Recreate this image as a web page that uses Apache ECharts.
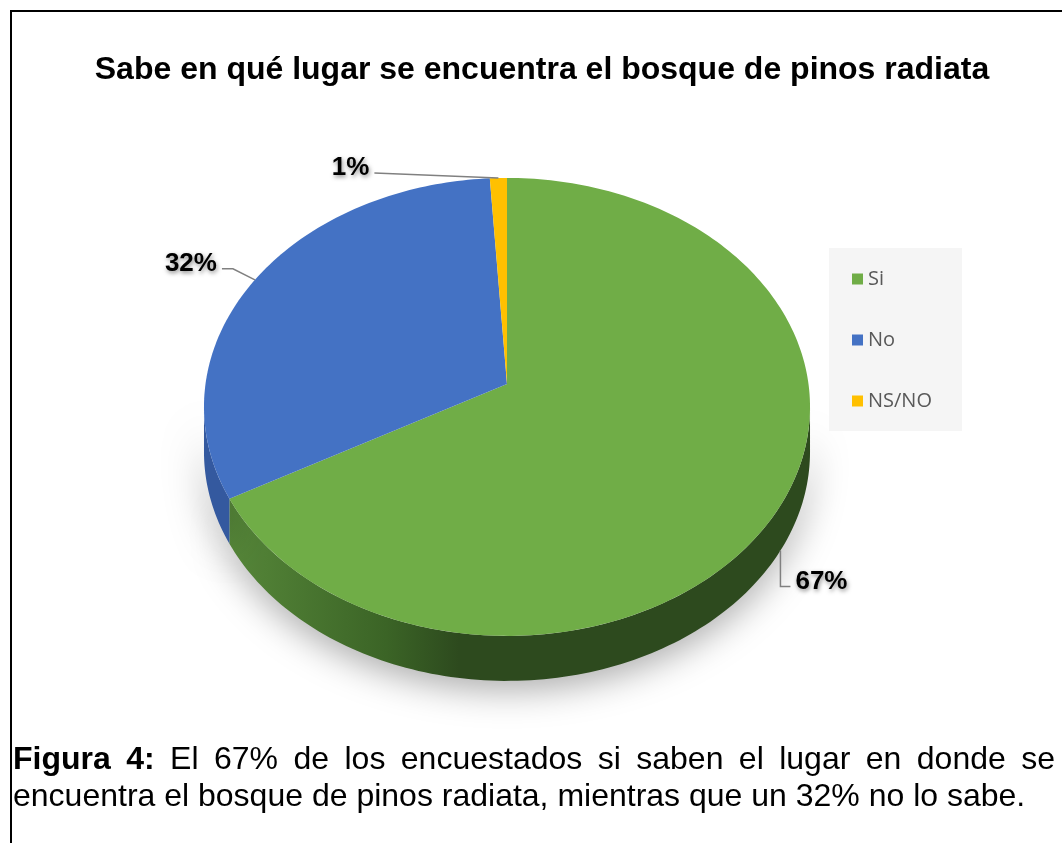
<!DOCTYPE html>
<html>
<head>
<meta charset="utf-8">
<script src="https://cdn.jsdelivr.net/npm/echarts@6/dist/echarts.min.js"></script>
<style>
  html, body { margin: 0; padding: 0; background: #fff; }
  .page { position: relative; width: 1062px; height: 843px; overflow: hidden; }
  .frame {
    position: absolute; left: 10px; top: 10px; width: 1100px; height: 900px;
    border-top: 2px solid #000; border-left: 2px solid #000;
  }
  #chart { position: absolute; left: 0; top: 0; width: 1062px; height: 843px; }
  .caption {
    position: absolute; left: 13px; top: 740px; width: 1042px;
    font-family: "Liberation Sans", Arial, sans-serif; font-size: 32px; line-height: 37px;
    text-align: justify; color: #000;
  }
</style>
</head>
<body>
<div class="page">
  <div class="frame"></div>
  <div id="chart"></div>
  <div class="caption"><b>Figura 4:</b> El 67% de los encuestados si saben el lugar en donde se encuentra el bosque de pinos radiata, mientras que un 32% no lo sabe.</div>
</div>
<script>
// datos
var categories = ['Si', 'No', 'NS/NO']
var values = [67, 32, 1]
var labels = ['67%', '32%', '1%']

// colores
var topColors = ['#70ad47', '#4472c4', '#ffc000']
var sideColors = [
  new echarts.graphic.LinearGradient(205, 0, 810, 0, [
    { offset: 0, color: '#5a8c3c' },
    { offset: 0.3, color: '#3b6426' },
    { offset: 0.42, color: '#2d4a1e' },
    { offset: 1, color: '#2d4a1e' }
  ], true),
  '#34599f',
  '#bf9000'
]

// geometria del pastel 3D (perspectiva)
var CX = 507
var CY = 384
var RX = 301.5
var RY = 226.7
var K = 0.1
var DEPTH = 45
// quiebres de las lineas guia [primer tramo, segundo tramo]
var leaderBends = [
  [[0, 36], [10, 0]],
  [[-22, -11], [-11, 0]],
  [[-62, -2.5], [-62, -2.5]]
]

function proj(t, dy) {
  var f = 1 / (1 + K * Math.cos(t))
  return [CX + RX * Math.sin(t) * f, CY - RY * Math.cos(t) * f + dy]
}

function arc(a1, a2, dy) {
  var pts = []
  var n = Math.max(2, Math.ceil((a2 - a1) / 0.02))
  for (var j = 0; j <= n; j++) {
    pts.push(proj(a1 + (a2 - a1) * j / n, dy))
  }
  return pts
}

function renderSlice(params, api) {
  var i = params.seriesIndex
  var total = values.reduce(function (a, b) { return a + b }, 0)
  var before = 0
  for (var k = 0; k < i; k++) before += values[k]
  var a1 = 2 * Math.PI * before / total
  var a2 = a1 + 2 * Math.PI * api.value(0) / total
  var children = []

  // cara lateral (solo la parte frontal)
  var ts = Math.acos(-K)
  var lo = Math.max(a1, ts)
  var hi = Math.min(a2, 2 * Math.PI - ts)
  if (lo < hi) {
    var side = arc(lo, hi, 0).concat(arc(lo, hi, DEPTH).reverse())
    children.push({
      type: 'polygon',
      z2: 1,
      shape: { points: side },
      style: {
        fill: sideColors[i],
        shadowColor: 'rgba(0,0,0,0.35)',
        shadowBlur: 36,
        shadowOffsetY: 8
      }
    })
  }

  // cara superior
  children.push({
    type: 'polygon',
    z2: 5,
    shape: { points: [[CX, CY]].concat(arc(a1, a2, 0)) },
    style: { fill: topColors[i] }
  })

  // linea guia y etiqueta
  var mid = (a1 + a2) / 2
  var front = mid > ts && mid < 2 * Math.PI - ts
  var A = proj(mid, front ? DEPTH : 0)
  var b = leaderBends[i]
  var E = [A[0] + b[0][0], A[1] + b[0][1]]
  var F = [E[0] + b[1][0], E[1] + b[1][1]]
  var right = b[1][0] > 0
  children.push({
    type: 'polyline',
    z2: 8,
    shape: { points: [A, E, F] },
    style: { stroke: '#808080', lineWidth: 1.5, fill: null }
  })
  children.push({
    type: 'text',
    z2: 10,
    style: {
      text: labels[i],
      x: F[0] + (right ? 5 : -5),
      y: F[1] - 5,
      align: right ? 'left' : 'right',
      verticalAlign: 'middle',
      font: 'bold 26px "Liberation Sans", Arial, sans-serif',
      fill: '#000',
      textShadowColor: 'rgba(0,0,0,0.45)',
      textShadowBlur: 4,
      textShadowOffsetX: 1,
      textShadowOffsetY: 2
    }
  })
  return { type: 'group', children: children }
}

var chart = echarts.init(document.getElementById('chart'))
chart.setOption({
  animation: false,
  color: topColors,
  title: {
    text: 'Sabe en qué lugar se encuentra el bosque de pinos radiata',
    left: 537,
    top: 49,
    textAlign: 'center',
    textStyle: {
      fontFamily: '"Liberation Sans", Arial, sans-serif',
      fontWeight: 'bold',
      fontSize: 32,
      color: '#000'
    }
  },
  legend: {
    orient: 'vertical',
    left: 829,
    top: 248,
    width: 131,
    padding: [19, 30, 18, 23],
    backgroundColor: '#f5f5f5',
    itemWidth: 11,
    itemHeight: 11,
    itemGap: 37,
    icon: 'rect',
    selectedMode: false,
    data: categories,
    textStyle: {
      fontFamily: '"Open Sans", "Noto Sans", sans-serif',
      fontSize: 20,
      lineHeight: 24,
      color: '#595959'
    }
  },
  series: categories.map(function (name, i) {
    return {
      type: 'custom',
      name: name,
      coordinateSystem: 'none',
      itemStyle: { color: topColors[i] },
      renderItem: renderSlice,
      data: [[values[i]]]
    }
  })
})
</script>
</body>
</html>
